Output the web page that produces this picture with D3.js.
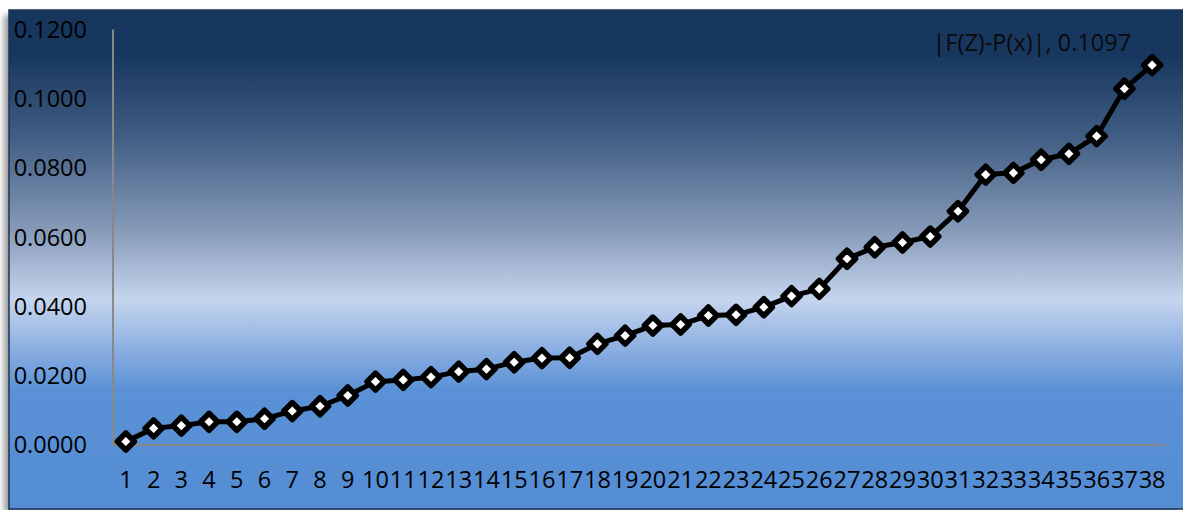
<!DOCTYPE html>
<html>
<head>
<meta charset="utf-8">
<script src="https://cdn.jsdelivr.net/npm/d3@7"></script>
<style>
  html, body { margin: 0; padding: 0; background: #ffffff; }
  svg { display: block; }
  text { font-family: "Open Sans", "DejaVu Sans", sans-serif; }
</style>
</head>
<body>
<svg id="chart" width="1183" height="510"></svg>
<script>
// Category labels along the x axis
const categories = ["1","2","3","4","5","6","7","8","9","10","11","12","13","14","15","16","17","18","19",
  "20","21","22","23","24","25","26","27","28","29","30","31","32","33","34","35","36","37","38"];

// |F(Z)-P(x)| for each category
const diffValues = [0.0010, 0.0048, 0.0056, 0.0067, 0.0067, 0.0076, 0.0098, 0.0112, 0.0143, 0.0183,
  0.0188, 0.0196, 0.0212, 0.0219, 0.0239, 0.0251, 0.0252, 0.0292, 0.0316, 0.0345,
  0.0348, 0.0374, 0.0376, 0.0398, 0.0430, 0.0451, 0.0538, 0.0571, 0.0585, 0.0602,
  0.0675, 0.0781, 0.0786, 0.0824, 0.0841, 0.0892, 0.1029, 0.1097];

const seriesName = "|F(Z)-P(x)|";

// Value axis ticks
const yTicks = [0, 0.02, 0.04, 0.06, 0.08, 0.10, 0.12];

const svg = d3.select("#chart");
const W = 1183, H = 510;

const defs = svg.append("defs");

// Chart-area background gradient: deep navy at the top, pale band, blue at the bottom
const grad = defs.append("linearGradient")
  .attr("id", "bg").attr("x1", 0).attr("y1", 0).attr("x2", 0).attr("y2", 1);
[
  [0.00, "#17365d"], [0.09, "#18375f"], [0.25, "#3f5c82"], [0.45, "#8a9dbb"],
  [0.58, "#c5d5ee"], [0.66, "#97b6e4"], [0.76, "#5b91d6"], [1.00, "#548dd4"]
].forEach(([o, c]) => grad.append("stop").attr("offset", o).attr("stop-color", c));

const shadow = defs.append("filter").attr("id", "shadow")
  .attr("x", "-5%").attr("y", "-5%").attr("width", "110%").attr("height", "110%");
shadow.append("feGaussianBlur").attr("stdDeviation", 3);

// Frame with a soft shadow to its left
const frame = { x: 9, y: 10, w: W - 9 + 2, h: 499 };
svg.append("rect")
  .attr("x", frame.x - 5).attr("y", frame.y + 5)
  .attr("width", frame.w).attr("height", frame.h)
  .attr("fill", "#9a9a9a").attr("filter", "url(#shadow)");
svg.append("rect")
  .attr("x", frame.x).attr("y", frame.y)
  .attr("width", frame.w).attr("height", frame.h)
  .attr("fill", "url(#bg)")
  .attr("stroke", "#1c3457").attr("stroke-width", 1.5);

// Scales
const x = d3.scaleBand().domain(categories).range([112, 1166]);
const y = d3.scaleLinear().domain([0, 0.12]).range([445, 29.5]);
const cx = d => x(d) + x.bandwidth() / 2;

// Axis lines
svg.append("line")
  .attr("x1", 113).attr("x2", 113).attr("y1", y(0.12)).attr("y2", y(0))
  .attr("stroke", "#888888").attr("stroke-width", 2);
svg.append("line")
  .attr("x1", 112).attr("x2", 1166).attr("y1", y(0)).attr("y2", y(0))
  .attr("stroke", "#888888").attr("stroke-width", 2);

// Value axis labels
const fmt = d3.format(".4f");
svg.append("g").selectAll("text")
  .data(yTicks).join("text")
  .attr("x", 87).attr("y", d => y(d))
  .attr("dy", "0.36em")
  .attr("text-anchor", "end")
  .attr("font-size", 23.5)
  .attr("fill", "#000000")
  .text(d => fmt(d));

// Category axis labels
svg.append("g").selectAll("text")
  .data(categories).join("text")
  .attr("x", d => cx(d)).attr("y", 488)
  .attr("text-anchor", "middle")
  .attr("font-size", 23.5)
  .attr("fill", "#000000")
  .text(d => d);

// Series line
const pts = categories.map((c, i) => ({ c, v: diffValues[i] }));
svg.append("path")
  .datum(pts)
  .attr("fill", "none")
  .attr("stroke", "#000000")
  .attr("stroke-width", 5)
  .attr("stroke-linejoin", "round")
  .attr("d", d3.line().x(d => cx(d.c)).y(d => y(d.v)));

// Diamond markers
const r = 8.5;
svg.append("g").selectAll("path")
  .data(pts).join("path")
  .attr("transform", d => `translate(${cx(d.c)},${y(d.v)})`)
  .attr("d", `M0,${-r}L${r},0L0,${r}L${-r},0Z`)
  .attr("fill", "#ffffff")
  .attr("stroke", "#000000")
  .attr("stroke-width", 5.5)
  .attr("stroke-linejoin", "round");

// Data label on the last point
const last = pts[pts.length - 1];
svg.append("text")
  .attr("x", cx(last.c) - 21)
  .attr("y", y(last.v) - 14)
  .attr("text-anchor", "end")
  .attr("font-size", 23.5)
  .attr("fill", "#0a0a0a")
  .text(`${seriesName}, ${last.v.toFixed(4)}`);
</script>
</body>
</html>
